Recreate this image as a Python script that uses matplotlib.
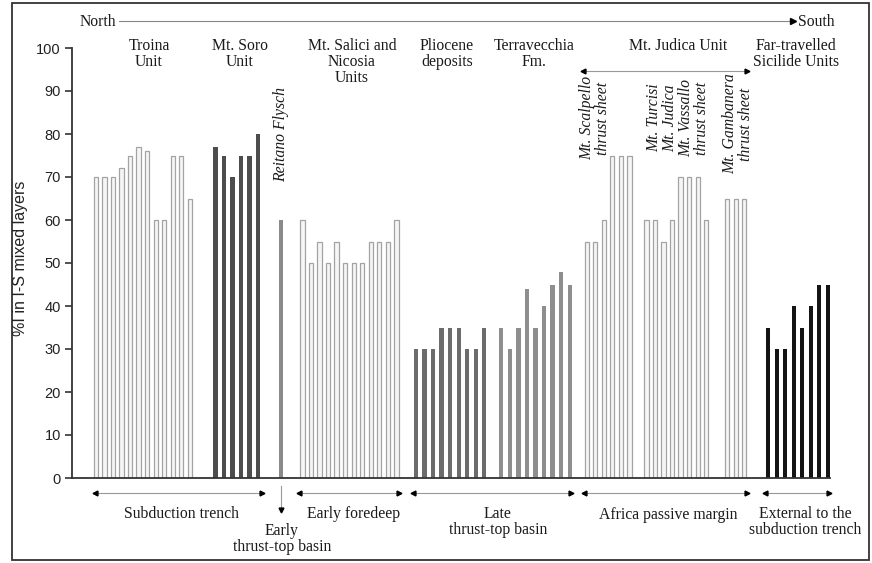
import matplotlib
matplotlib.use("Agg")
import matplotlib.pyplot as plt
import matplotlib.transforms as mtransforms
from matplotlib.patches import Rectangle

# ----------------------------
# DATA (% illite in I-S mixed layers)
# ----------------------------
troina = [70, 70, 70, 72, 75, 77, 76, 60, 60, 75, 75, 65]
mt_soro = [77, 75, 70, 75, 75, 80]
reitano = [60]
salici_nicosia = [60, 50, 55, 50, 55, 50, 50, 50, 55, 55, 55, 60]
pliocene = [30, 30, 30, 35, 35, 35, 30, 30, 35]
terravecchia = [35, 30, 35, 44, 35, 40, 45, 48, 45]
scalpello = [55, 55, 60, 75, 75, 75]
turcisi_judica_vassallo = [60, 60, 55, 60, 70, 70, 70, 60]
gambanera = [65, 65, 65]
sicilide = [35, 30, 30, 40, 35, 40, 45, 45]

groups = [troina, mt_soro, reitano, salici_nicosia, pliocene, terravecchia,
          scalpello, turcisi_judica_vassallo, gambanera, sicilide]

# ----------------------------
# STYLE / LAYOUT
# ----------------------------
LIGHT = dict(color="#f6f6f6", edgecolor="#a3a3a3", linewidth=0.9)
styles = [LIGHT,
          dict(color="#4d4d4d"),
          dict(color="#8a8a8a"),
          LIGHT,
          dict(color="#6c6c6c"),
          dict(color="#8e8e8e"),
          LIGHT, LIGHT, LIGHT,
          dict(color="#141414")]
start = 2.8
gaps = [3, 2.65, 2.55, 2.3, 2, 2, 2, 2.45, 2.8]   # spacing between groups
bar_w = 0.5

W, H = 872, 563
fig = plt.figure(figsize=(W / 100, H / 100), dpi=100)
ax = fig.add_axes([72 / W, 1 - 478 / H, (830 - 72) / W, (478 - 48) / H])

serif = "Liberation Serif"
sans = "Liberation Sans"

# bars
xs_groups = []
x = start
for i, (vals, st) in enumerate(zip(groups, styles)):
    xs = [x + k for k in range(len(vals))]
    ax.bar(xs, vals, width=bar_w, zorder=2, **st)
    xs_groups.append(xs)
    if i < len(gaps):
        x = xs[-1] + gaps[i]

ax.set_xlim(0, 88.8)
ax.set_ylim(0, 100)
ax.set_yticks(range(0, 101, 10))
ax.set_xticks([])
for s in ["top", "right"]:
    ax.spines[s].set_visible(False)
for s in ["left", "bottom"]:
    ax.spines[s].set_color("#333333")
    ax.spines[s].set_linewidth(1.3)
ax.tick_params(axis="y", length=5, width=1.2, color="#333333", pad=3)
for lab in ax.get_yticklabels():
    lab.set_fontfamily(sans)
    lab.set_fontsize(10.5)
    lab.set_color("#222222")

# overlay in pixel coordinates for annotations
ov = fig.add_axes([0, 0, 1, 1], facecolor="none")
ov.set_xlim(0, W)
ov.set_ylim(H, 0)
ov.axis("off")
trans = mtransforms.blended_transform_factory(ax.transData, ov.transData)

fig.text(20 / W, 1 - 258 / H, "%I in I-S mixed layers", rotation=90,
         ha="center", va="center", fontsize=11.5, family=sans, color="#222222")

# frame
ov.add_patch(Rectangle((12, 3), 857, 557, fill=False, edgecolor="#333333", linewidth=1.3))

tk = dict(family=serif, fontsize=11.3, color="#1a1a1a", linespacing=1.0)

# North - South line
ov.text(80, 22, "North", ha="left", va="center", **tk)
ov.plot([119, 793], [21, 21], color="#888888", lw=0.8)
ov.plot([793], [21], marker=">", color="black", markersize=4)
ov.text(798, 22, "South", ha="left", va="center", **tk)

# top group labels
top_labels = [("Troina\nUnit", 149), ("Mt. Soro\nUnit", 240),
              ("Mt. Salici and\nNicosia\nUnits", 352),
              ("Pliocene\ndeposits", 447), ("Terravecchia\nFm.", 534),
              ("Mt. Judica Unit", 678),
              ("Far-travelled\nSicilide Units", 796)]
for txt, px in top_labels:
    ov.text(px, 38, txt, ha="center", va="top", multialignment="center", **tk)


def harrow(x0, x1, y, heads="both"):
    ov.plot([x0, x1], [y, y], color="#999999", lw=0.8, transform=trans)
    if heads in ("both", "left"):
        ov.plot([x0], [y], marker="<", color="black", markersize=3.5, transform=trans)
    if heads in ("both", "right"):
        ov.plot([x1], [y], marker=">", color="black", markersize=3.5, transform=trans)


# Mt. Judica arrow
harrow(xs_groups[6][0] - 0.45, xs_groups[8][-1] + 0.35, 71)

# rotated italic labels
it = dict(tk, style="italic", rotation=90, ha="center", va="center",
          multialignment="center")
ov.text(281, 134, "Reitano Flysch", **it)
ov.text(595, 118, "Mt. Scalpello\nthrust sheet", **it)
ov.text(678, 118, "Mt. Turcisi\nMt. Judica\nMt. Vassallo\nthrust sheet", **it)
ov.text(738, 124, "Mt. Gambanera\nthrust sheet", **it)

# bottom setting arrows
ya = 493
harrow(xs_groups[0][0] - 0.1, xs_groups[1][-1] + 0.45, ya)
harrow(xs_groups[3][0] - 0.35, xs_groups[3][-1] + 0.3, ya)
harrow(xs_groups[4][0] - 0.4, xs_groups[5][-1] + 0.2, ya)
harrow(xs_groups[6][0] - 0.3, xs_groups[8][-1] + 0.35, ya)
harrow(xs_groups[9][0] - 0.35, xs_groups[9][-1] + 0.1, ya)
xr = xs_groups[2][0]
ov.plot([xr, xr], [486, 510], color="#999999", lw=0.8, transform=trans)
ov.plot([xr], [510], marker="v", color="black", markersize=3.5, transform=trans)

bottom_labels = [("Subduction trench", 181, 514),
                 ("Early\nthrust-top basin", 282, 539),
                 ("Early foredeep", 354, 514),
                 ("Late\nthrust-top basin", 498, 522),
                 ("Africa passive margin", 668, 515),
                 ("External to the\nsubduction trench", 805, 522)]
for txt, px, py in bottom_labels:
    ov.text(px, py, txt, ha="center", va="center", multialignment="center", **tk)

fig.savefig("out.png", dpi=100)
